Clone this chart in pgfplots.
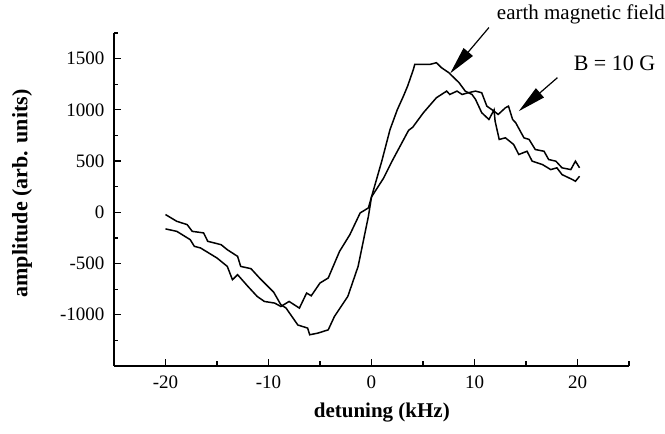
\documentclass[border=0pt]{standalone}
\usepackage{pgfplots}
\pgfplotsset{compat=1.18}
\usepackage{fontspec}
\setmainfont{Liberation Serif}
\usetikzlibrary{arrows.meta}
\begin{document}
\begin{tikzpicture}
\useasboundingbox (-114pt,-68pt) rectangle (551pt,366pt);
\begin{axis}[
  at={(0,0)}, anchor=south west,
  width=515pt, height=333pt, scale only axis,
  xmin=-25, xmax=25, ymin=-1500, ymax=1750,
  axis lines*=left,
  axis line style={line width=1.5pt},
  xtick={-20,-10,0,10,20},
  xticklabels={-20,-10,0,10,20},
  ytick={-1000,-500,0,500,1000,1500},
  yticklabels={-1000,-500,0,500,1000,1500},
  minor xtick={-25,-15,-5,5,15,25},
  minor ytick={-1250,-750,-250,250,750,1250,1750},
  tick align=inside,
  major tick length=7pt, minor tick length=4.5pt,
  every tick/.style={black, line width=1.3pt},
  tick label style={font=\fontsize{19}{21}\selectfont},
  yticklabel style={xshift=-6pt},
  xticklabel style={yshift=-6pt},
  xlabel={\bfseries detuning (kHz)},
  ylabel={\bfseries amplitude (arb. units)},
  xlabel style={font=\fontsize{21}{24}\selectfont, at={(axis description cs:0.52,0)}, anchor=center, yshift=-47pt},
  ylabel style={font=\fontsize{22}{25}\selectfont, at={(axis description cs:0,0.5)}, anchor=center, rotate=0, yshift=92pt, xshift=6pt},
  clip=false,
]
% earth magnetic field
\addplot[black, line width=1.5pt] coordinates {
(-20,-22) (-18.9,-88) (-17.9,-120) (-17.4,-186) (-16.3,-201) (-15.9,-283)
(-14.6,-316) (-14.0,-365) (-13.0,-430) (-12.7,-528) (-11.7,-550) (-10.8,-649)
(-9.5,-779) (-8.8,-902) (-8.3,-934) (-7.15,-1100) (-6.2,-1130) (-6.0,-1195)
(-5.2,-1179) (-4.2,-1147) (-3.6,-1017) (-2.3,-821) (-1.3,-528) (-0.3,-39)
(0,150) (1.0,500) (1.8,808) (2.5,1000) (3.1,1134) (3.5,1230) (4.07,1395)
(4.2,1444) (5.7,1444) (6.3,1460) (6.8,1411) (7.5,1363) (8.5,1265) (9.1,1183)
(9.76,1150) (10.1,1102) (10.7,972) (11.4,906) (11.9,1000) (12.0,890)
(12.4,711) (13.0,727) (13.8,662) (14.3,564) (15.1,596) (15.6,499)
(16.6,466) (17.4,417) (18.0,434) (18.5,368) (19.5,320) (19.8,303) (20.2,352)
};
% B = 10 G
\addplot[black, line width=1.5pt] coordinates {
(-20,-162) (-18.9,-186) (-17.6,-267) (-17.2,-332) (-16.6,-348) (-15.0,-446)
(-14.0,-528) (-13.5,-658) (-13.0,-609) (-12.0,-723) (-11.1,-821) (-10.4,-870)
(-9.4,-886) (-8.8,-919) (-8.0,-870) (-7.0,-935) (-6.3,-788) (-5.85,-815)
(-5.0,-690) (-4.2,-641) (-3.1,-381) (-2.1,-218) (-1.1,-6) (-0.3,43)
(0,150) (1.15,330) (2.0,500) (2.8,650) (3.6,800) (4.0,830) (5.04,972)
(6.3,1118) (7.3,1183) (7.6,1150) (8.3,1183) (8.8,1150) (9.4,1167)
(10.1,1183) (10.7,1167) (11.2,1036) (11.9,987) (12.3,955) (13.0,1020)
(13.3,1036) (13.7,906) (14.0,874) (14.8,727) (15.3,711) (15.9,613)
(16.75,596) (17.2,515) (17.9,499) (18.5,434) (19.35,417) (19.8,499) (20.2,434)
};
\node[anchor=east, font=\fontsize{21}{24}\selectfont, inner sep=0pt] at (axis cs:28.5,1932) {earth magnetic field};
\node[anchor=center, font=\fontsize{22}{25}\selectfont, inner sep=0pt] at (axis cs:23.6,1456) {B = 10 G};
\draw[line width=1.2pt, -{Triangle[length=28pt,width=12pt]}] (axis cs:11.4,1803) -- (axis cs:7.64,1356);
\draw[line width=1.2pt, -{Triangle[length=28pt,width=12pt]}] (axis cs:18.05,1314) -- (axis cs:14.3,987);
\end{axis}
\end{tikzpicture}
\end{document}
